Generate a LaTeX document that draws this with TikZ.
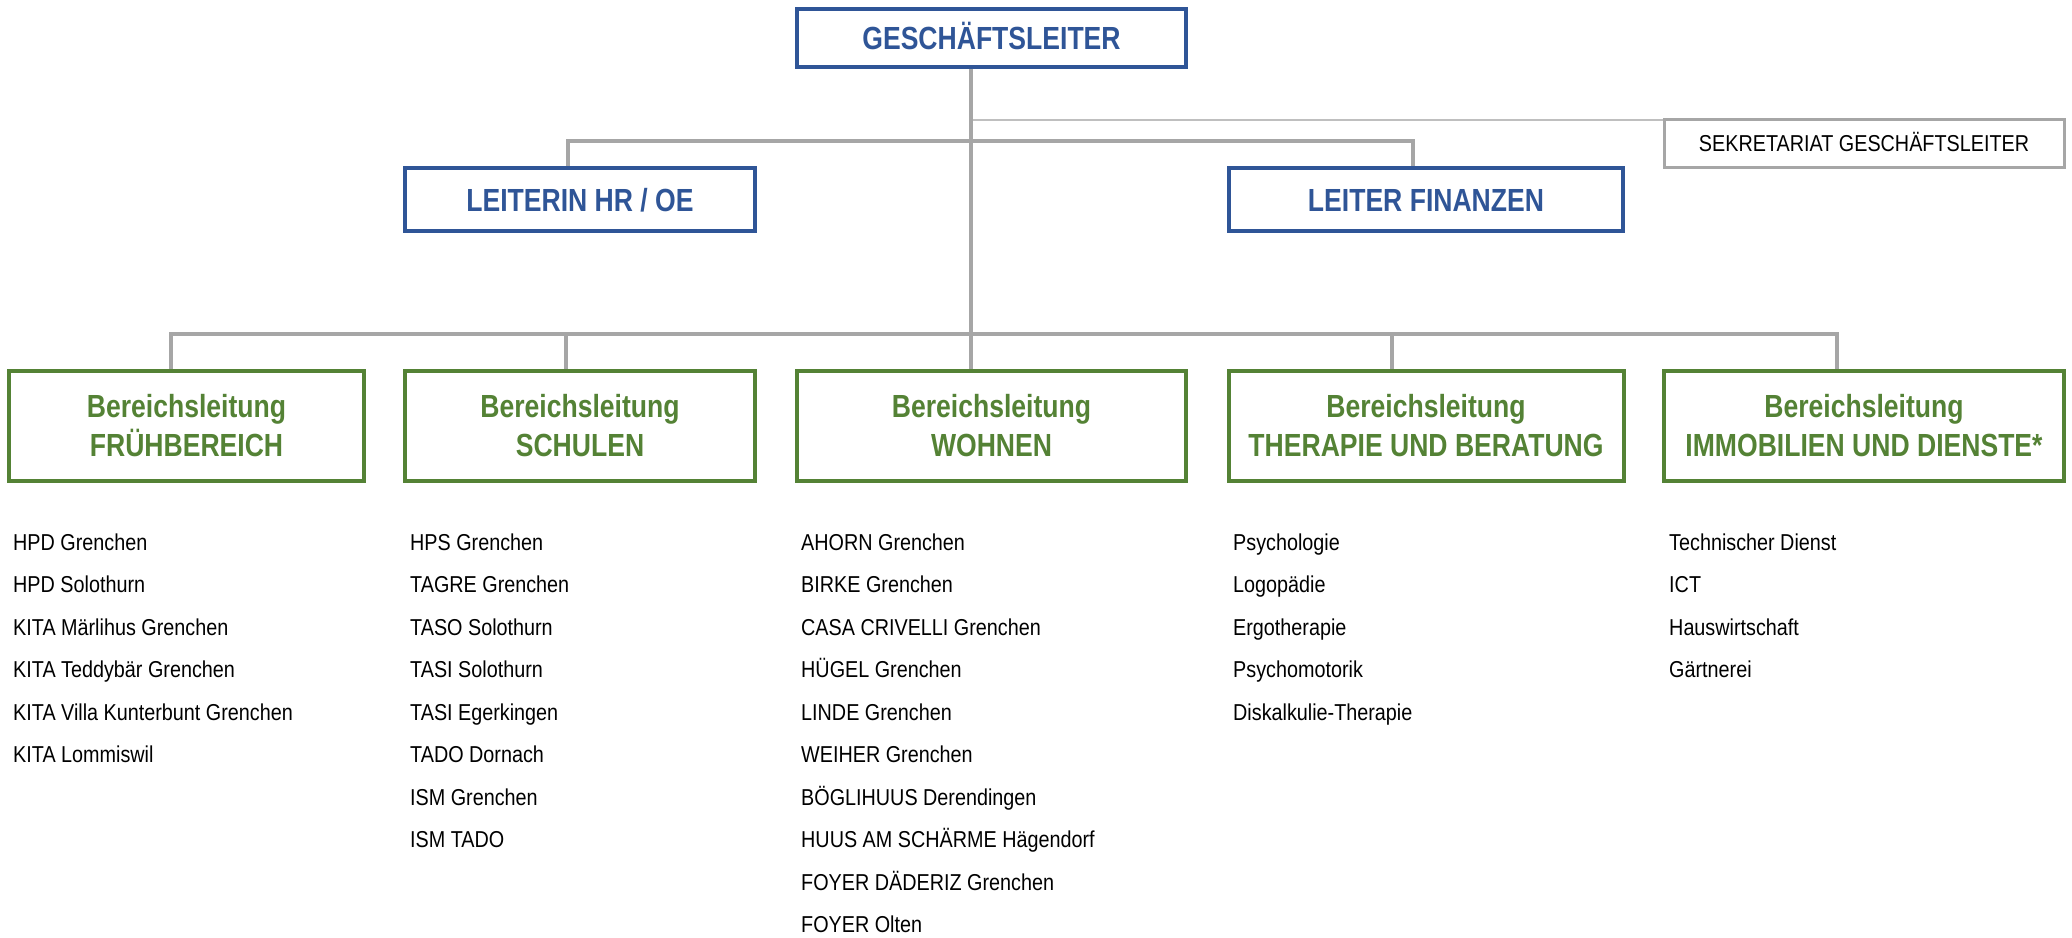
\documentclass[tikz,border=0pt]{standalone}
\usepackage{fontspec}
\setmainfont{Liberation Sans}[FakeStretch=0.83]
\newfontfamily\regfont{Liberation Sans}[FakeStretch=0.86]
\definecolor{hblue}{HTML}{2F5597}
\definecolor{hgreen}{HTML}{548235}
\definecolor{cgrey}{HTML}{A6A6A6}
\definecolor{cgreyl}{HTML}{BFBFBF}
\tikzset{
  bluebox/.style={draw=hblue, line width=4pt, inner sep=0pt, text=hblue,
    font=\fontsize{32}{38}\selectfont\bfseries, text height=23pt, text depth=0pt},
  greenbox/.style={draw=hgreen, line width=4pt, inner sep=0pt, text=hgreen, align=center,
    font=\fontsize{32}{39}\selectfont\bfseries, minimum height=110pt},
  sekbox/.style={draw=cgrey, line width=3pt, inner sep=0pt,
    font=\regfont\fontsize{23}{27}\selectfont, text height=16.5pt, text depth=0pt},
  listitem/.style={anchor=base west, inner sep=0pt, font=\regfont\fontsize{23}{27}\selectfont},
  conn/.style={draw=cgrey, line width=4pt, line join=miter},
  thinconn/.style={draw=cgreyl, line width=2.5pt}
}
\begin{document}
\begin{tikzpicture}[x=1pt,y=-1pt]
\useasboundingbox (0,0) rectangle (2072,937);
% top level
\node[bluebox, minimum width=389pt, minimum height=58pt] (gl) at (991.5,38) {GESCHÄFTSLEITER};
\node[bluebox, minimum width=350pt, minimum height=63pt] (hr) at (580,199.5) {LEITERIN HR / OE};
\node[bluebox, minimum width=394pt, minimum height=63pt] (fin) at (1426,199.5) {LEITER FINANZEN};
\node[sekbox, minimum width=400pt, minimum height=48pt] (sek) at (1864,143.5) {SEKRETARIAT GESCHÄFTSLEITER};
% area boxes
\node[greenbox, minimum width=355pt] (b1) at (186.5,426) {Bereichsleitung\\FRÜHBEREICH};
\node[greenbox, minimum width=350pt] (b2) at (580,426) {Bereichsleitung\\SCHULEN};
\node[greenbox, minimum width=389pt] (b3) at (991.5,426) {Bereichsleitung\\WOHNEN};
\node[greenbox, minimum width=395pt] (b4) at (1426,426) {Bereichsleitung\\THERAPIE UND BERATUNG};
\node[greenbox, minimum width=400pt] (b5) at (1864,426) {Bereichsleitung\\IMMOBILIEN UND DIENSTE*};
% junction coordinates
\coordinate (tr) at (971,334);
\coordinate (sj) at (971,120);
\coordinate (hL) at (568,141);
\coordinate (hR) at (1413,141);
\coordinate (bL) at (171,334);
\coordinate (bR) at (1837,334);
\coordinate (x2) at (566,334);
\coordinate (x4) at (1392,334);
% connectors
\draw[thinconn] (sj) -- (sek.west |- sj);
\draw[conn] (hr.north -| hL) -- (hL) -- (hR) -- (fin.north -| hR);
\draw[conn] (gl.south -| tr) -- (b3.north -| tr);
\draw[conn] (b1.north -| bL) -- (bL) -- (bR) -- (b5.north -| bR);
\draw[conn] (x2) -- (b2.north -| x2);
\draw[conn] (x4) -- (b4.north -| x4);
% lists
\foreach \t [count=\i] in {HPD Grenchen, HPD Solothurn, KITA Märlihus Grenchen, KITA Teddybär Grenchen, KITA Villa Kunterbunt Grenchen, KITA Lommiswil}
  \node[listitem] (la\i) at (13,{550+42.5*(\i-1)}) {\t};
\foreach \t [count=\i] in {HPS Grenchen, TAGRE Grenchen, TASO Solothurn, TASI Solothurn, TASI Egerkingen, TADO Dornach, ISM Grenchen, ISM TADO}
  \node[listitem] (lb\i) at (410,{550+42.5*(\i-1)}) {\t};
\foreach \t [count=\i] in {AHORN Grenchen, BIRKE Grenchen, CASA CRIVELLI Grenchen, HÜGEL Grenchen, LINDE Grenchen, WEIHER Grenchen, BÖGLIHUUS Derendingen, HUUS AM SCHÄRME Hägendorf, FOYER DÄDERIZ Grenchen, FOYER Olten}
  \node[listitem] (lc\i) at (801,{550+42.5*(\i-1)}) {\t};
\foreach \t [count=\i] in {Psychologie, Logopädie, Ergotherapie, Psychomotorik, Diskalkulie-Therapie}
  \node[listitem] (ld\i) at (1233,{550+42.5*(\i-1)}) {\t};
\foreach \t [count=\i] in {Technischer Dienst, ICT, Hauswirtschaft, Gärtnerei}
  \node[listitem] (le\i) at (1669,{550+42.5*(\i-1)}) {\t};
\end{tikzpicture}
\end{document}
